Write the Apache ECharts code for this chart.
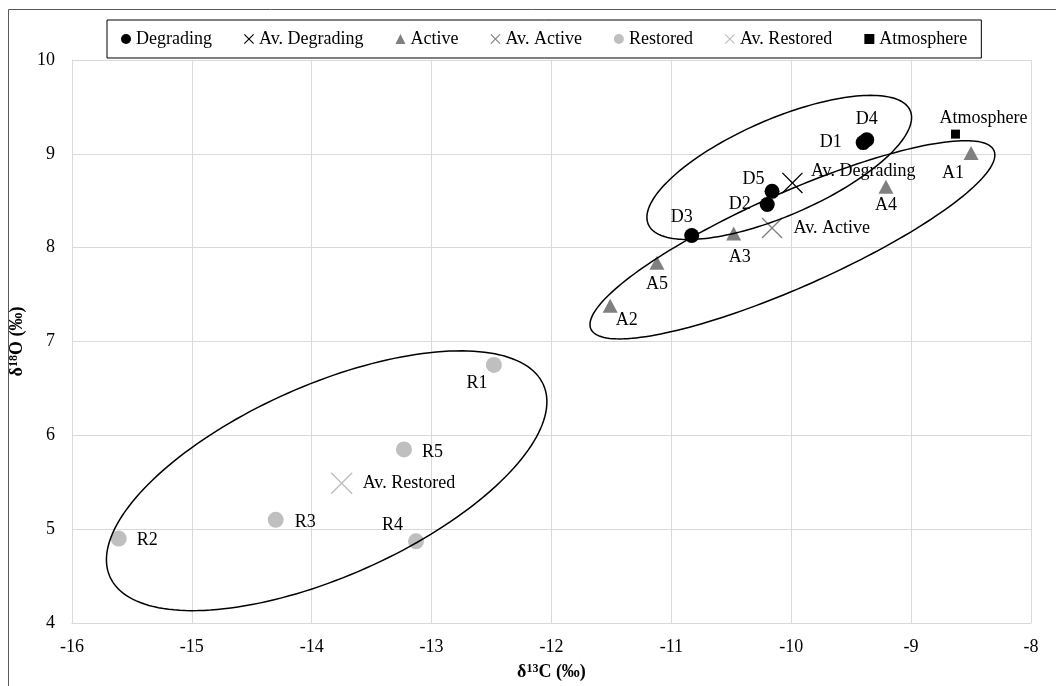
<!DOCTYPE html>
<html>
<head>
<meta charset="utf-8">
<script src="https://cdn.jsdelivr.net/npm/echarts@6/dist/echarts.min.js"></script>
<style>
  html, body { margin: 0; padding: 0; background: #fff; }
  #chart { width: 1056px; height: 686px; }
</style>
</head>
<body>
<div id="chart"></div>
<script>
// Isotope signatures: δ13C (x) vs δ18O (y), per‰
const degradingNames = ['D1', 'D2', 'D3', 'D4', 'D5'];
const degradingC = [-9.40, -10.20, -10.83, -9.37, -10.16];
const degradingO = [9.12, 8.46, 8.13, 9.15, 8.60];

const activeNames = ['A1', 'A2', 'A3', 'A4', 'A5'];
const activeC = [-8.50, -11.51, -10.48, -9.21, -11.12];
const activeO = [9.01, 7.38, 8.15, 8.65, 7.84];

const restoredNames = ['R1', 'R2', 'R3', 'R4', 'R5'];
const restoredC = [-12.48, -15.61, -14.30, -13.13, -13.23];
const restoredO = [6.75, 4.90, 5.10, 4.87, 5.85];

const avDegrading = [-9.99, 8.69];
const avActive = [-10.16, 8.21];
const avRestored = [-13.75, 5.49];
const atmosphere = [-8.63, 9.21];

// Group ellipses: centre, major and minor semi-axis vectors (data units)
const ellipseCenter = [[-10.10, 8.855], [-9.99, 8.084], [-13.875, 5.516]];
const ellipseMajor = [[1.092, 0.607], [1.681, 0.951], [1.808, 1.023]];
const ellipseMinor = [[-0.161, 0.471], [-0.160, 0.460], [-0.325, 0.933]];

const FONT = 'Liberation Serif';

// Label placement per point
const labelPlacement = {
  D1: { position: 'left', distance: 14 },
  D4: { position: 'top', distance: 4 },
  D5: { position: 'left', distance: 0, offset: [0, -12] },
  D2: { position: 'left', distance: 9 },
  D3: { position: 'top', distance: 2, offset: [-10, 0] },
  A1: { position: 'bottom', distance: 4, offset: [-18, 0] },
  A2: { position: 'right', distance: -2, offset: [0, 14] },
  A3: { position: 'bottom', distance: 8, offset: [6, 0] },
  A4: { position: 'bottom', distance: 3 },
  A5: { position: 'bottom', distance: 6 },
  R1: { position: 'bottom', distance: 1, offset: [-17, 0] },
  R2: { position: 'right', distance: 10, offset: [0, 2] },
  R3: { position: 'right', distance: 11, offset: [0, 2] },
  R4: { position: 'left', distance: 5, offset: [0, -16] },
  R5: { position: 'right', distance: 10, offset: [0, 3] },
  'Av. Degrading': { position: 'right', distance: 8, offset: [0, -12] },
  'Av. Active': { position: 'right', distance: 11 },
  'Av. Restored': { position: 'right', distance: 10 },
  'Atmosphere': { position: 'top', distance: 2, offset: [28, 0] }
};

// Thin "x" marker drawn as a filled outline
const xSymbol = 'path://M0,4.5 L4.5,0 L50,45.5 L95.5,0 L100,4.5 L54.5,50 L100,95.5 L95.5,100 L50,54.5 L4.5,100 L0,95.5 L45.5,50 Z';
const xLegendIcon = 'path://M0,8 L8,0 L50,42 L92,0 L100,8 L58,50 L100,92 L92,100 L50,58 L8,100 L0,92 L42,50 Z';

function pointLabel(name) {
  const p = labelPlacement[name] || {};
  return Object.assign({
    show: true,
    formatter: name,
    color: '#000',
    fontFamily: FONT,
    fontSize: 18
  }, p);
}

function buildPoints(names, xs, ys) {
  return names.map((n, i) => ({ name: n, value: [xs[i], ys[i]], label: pointLabel(n) }));
}

function single(name, v) {
  return [{ name: name, value: v, label: pointLabel(name) }];
}

function renderEllipse(params, api) {
  const i = params.dataIndex;
  const c = ellipseCenter[i], u = ellipseMajor[i], v = ellipseMinor[i];
  const pts = [];
  const n = 180;
  for (let k = 0; k < n; k++) {
    const t = 2 * Math.PI * k / n;
    const ct = Math.cos(t), st = Math.sin(t);
    pts.push(api.coord([c[0] + u[0] * ct + v[0] * st, c[1] + u[1] * ct + v[1] * st]));
  }
  return {
    type: 'polygon',
    shape: { points: pts },
    style: { fill: 'none', stroke: '#000', lineWidth: 1.5 },
    silent: true
  };
}

const chart = echarts.init(document.getElementById('chart'), null, { renderer: 'canvas' });

const option = {
  animation: false,
  backgroundColor: '#fff',
  graphic: [{
    type: 'rect',
    shape: { x: 8.5, y: 9.5, width: 1200, height: 800 },
    style: { fill: 'none', stroke: '#595959', lineWidth: 1 },
    silent: true,
    z: -10
  }],
  legend: {
    left: 107,
    top: 20,
    padding: [10, 14],
    itemGap: 32,
    itemWidth: 10,
    itemHeight: 10,
    borderColor: '#000',
    borderWidth: 1,
    textStyle: { fontFamily: FONT, fontSize: 18, color: '#000' },
    data: [
      { name: 'Degrading', icon: 'circle' },
      { name: 'Av. Degrading', icon: xLegendIcon },
      { name: 'Active', icon: 'triangle' },
      { name: 'Av. Active', icon: xLegendIcon },
      { name: 'Restored', icon: 'circle' },
      { name: 'Av. Restored', icon: xLegendIcon },
      { name: 'Atmosphere', icon: 'rect' }
    ]
  },
  grid: { left: 69, right: 25, top: 60, bottom: 60 },
  xAxis: {
    type: 'value',
    min: -16, max: -8, interval: 1,
    name: '{a|δ}{s|13}{a|C (‰)}',
    nameLocation: 'middle',
    nameGap: 40,
    nameTextStyle: {
      rich: {
        a: { fontFamily: FONT, fontSize: 18, fontWeight: 'bold', color: '#000' },
        s: { fontFamily: FONT, fontSize: 12, fontWeight: 'bold', color: '#000', verticalAlign: 'top' }
      }
    },
    axisLine: { show: true, lineStyle: { color: '#d9d9d9', width: 1 } },
    axisTick: { show: false },
    splitLine: { show: true, lineStyle: { color: '#d9d9d9', width: 1 } },
    axisLabel: { fontFamily: FONT, fontSize: 18, color: '#000', margin: 15 }
  },
  yAxis: {
    type: 'value',
    min: 4, max: 10, interval: 1,
    name: '{a|δ}{s|18}{a|O (‰)}',
    nameLocation: 'middle',
    nameGap: 36,
    nameRotate: 90,
    nameTextStyle: {
      rich: {
        a: { fontFamily: FONT, fontSize: 18, fontWeight: 'bold', color: '#000' },
        s: { fontFamily: FONT, fontSize: 12, fontWeight: 'bold', color: '#000', verticalAlign: 'top' }
      }
    },
    axisLine: { show: true, lineStyle: { color: '#d9d9d9', width: 1 } },
    axisTick: { show: false },
    splitLine: { show: true, lineStyle: { color: '#d9d9d9', width: 1 } },
    axisLabel: { fontFamily: FONT, fontSize: 18, color: '#000', margin: 17 }
  },
  series: [
    {
      name: 'Degrading', type: 'scatter', symbol: 'circle', symbolSize: 15,
      itemStyle: { color: '#000', opacity: 1 },
      data: buildPoints(degradingNames, degradingC, degradingO), z: 3
    },
    {
      name: 'Av. Degrading', type: 'scatter', symbol: xSymbol, symbolSize: 21,
      itemStyle: { color: '#000', opacity: 1 },
      data: single('Av. Degrading', avDegrading), z: 3
    },
    {
      name: 'Active', type: 'scatter', symbol: 'triangle', symbolSize: [15, 14],
      itemStyle: { color: '#808080', opacity: 1 },
      data: buildPoints(activeNames, activeC, activeO), z: 3
    },
    {
      name: 'Av. Active', type: 'scatter', symbol: xSymbol, symbolSize: 21,
      itemStyle: { color: '#808080', opacity: 1 },
      data: single('Av. Active', avActive), z: 3
    },
    {
      name: 'Restored', type: 'scatter', symbol: 'circle', symbolSize: 16,
      itemStyle: { color: '#bfbfbf', opacity: 1 },
      data: buildPoints(restoredNames, restoredC, restoredO), z: 3
    },
    {
      name: 'Av. Restored', type: 'scatter', symbol: xSymbol, symbolSize: 22,
      itemStyle: { color: '#bfbfbf', opacity: 1 },
      data: single('Av. Restored', avRestored), z: 3
    },
    {
      name: 'Atmosphere', type: 'scatter', symbol: 'rect', symbolSize: 9,
      itemStyle: { color: '#000', opacity: 1 },
      data: single('Atmosphere', atmosphere), z: 3
    },
    {
      name: 'groups', type: 'custom',
      renderItem: renderEllipse,
      data: ellipseCenter,
      clip: false,
      silent: true,
      z: 4
    }
  ]
};

chart.setOption(option);
</script>
</body>
</html>
